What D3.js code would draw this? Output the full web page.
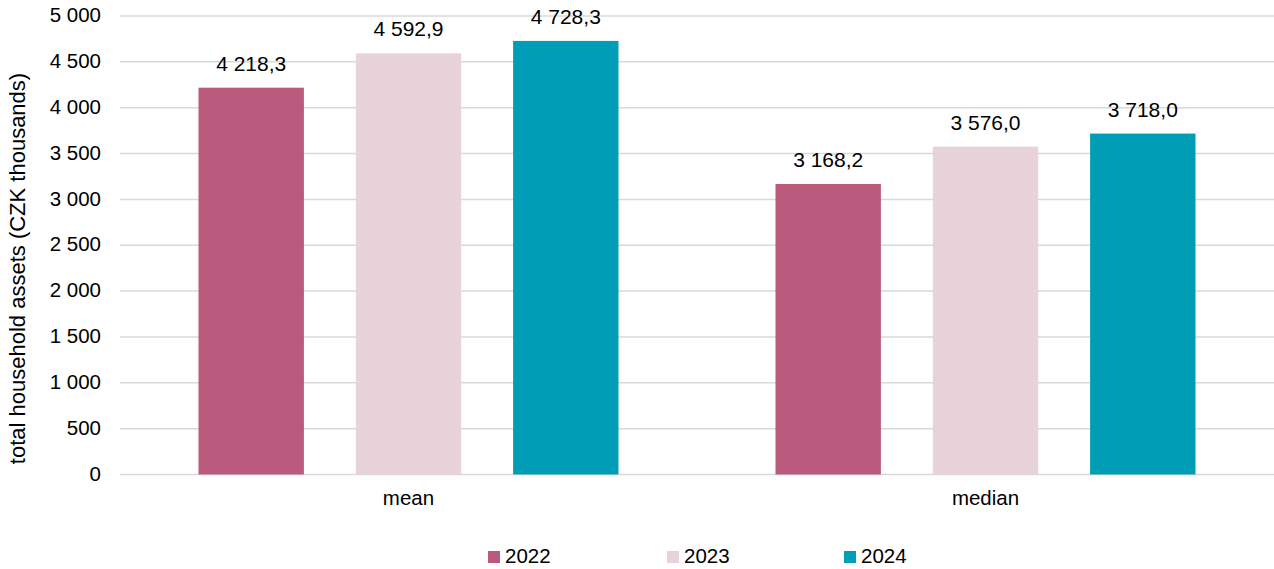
<!DOCTYPE html>
<html><head><meta charset="utf-8">
<script src="https://cdn.jsdelivr.net/npm/d3@7"></script>
<style>body{margin:0;background:#fff}svg{display:block;font-family:"Liberation Sans",Arial,sans-serif}</style>
</head><body><svg id="c" width="1274" height="569"></svg>
<script>
const categories = ["mean", "median"];
const years = ["2022", "2023", "2024"];
const v2022 = [4218.3, 3168.2];
const v2023 = [4592.9, 3576.0];
const v2024 = [4728.3, 3718.0];
const yTicks = [0, 500, 1000, 1500, 2000, 2500, 3000, 3500, 4000, 4500, 5000];
const colors = ["#BA5B7E", "#E8D3DA", "#009DB6"];
const series = [v2022, v2023, v2024];

const svg = d3.select("#c");
const L = 120, R = 1274, T = 16, B = 474.5;
const grp = s => s.replace(/\B(?=(\d{3})+(?!\d))/g, " ");
const fmt = v => grp(v.toFixed(0));
const fmt1 = v => { const [i, d] = v.toFixed(1).split("."); return grp(i) + "," + d; };

const x = d3.scaleBand().domain(categories).range([L, R]).paddingInner(0).paddingOuter(0);
const y = d3.scaleLinear().domain([0, 5000]).range([B, T]);
const inner = d3.scaleBand().domain(years).range([78.5, x.bandwidth() - 78.5]).paddingInner(0.33).paddingOuter(0);

// grid
svg.append("g").selectAll("line").data(yTicks).join("line")
  .attr("x1", L).attr("x2", R).attr("y1", d => y(d)).attr("y2", d => y(d))
  .attr("stroke", "#d9d9d9").attr("stroke-width", 1.5);

// y tick labels
svg.append("g").selectAll("text").data(yTicks).join("text")
  .attr("x", 101).attr("y", d => y(d)).attr("dy", "0.3em")
  .attr("text-anchor", "end").attr("font-size", 20.5).attr("fill", "#000")
  .text(d => fmt(d));

// bars
years.forEach((yr, si) => {
  const g = svg.append("g");
  g.selectAll("rect").data(categories).join("rect")
    .attr("x", c => x(c) + inner(yr)).attr("width", inner.bandwidth())
    .attr("y", (c, i) => y(series[si][i])).attr("height", (c, i) => B - y(series[si][i]))
    .attr("fill", colors[si]);
  g.selectAll("text").data(categories).join("text")
    .attr("x", c => x(c) + inner(yr) + inner.bandwidth() / 2)
    .attr("y", (c, i) => y(series[si][i]) - 17)
    .attr("text-anchor", "middle").attr("font-size", 21).attr("fill", "#000")
    .text((c, i) => fmt1(series[si][i]));
});

// category labels
svg.append("g").selectAll("text").data(categories).join("text")
  .attr("x", c => x(c) + x.bandwidth() / 2).attr("y", 505)
  .attr("text-anchor", "middle").attr("font-size", 20.5).attr("fill", "#000")
  .text(c => c);

// y axis title
svg.append("text").attr("transform", "translate(25,268.5) rotate(-90)")
  .attr("text-anchor", "middle").attr("font-size", 22).attr("fill", "#000")
  .text("total household assets (CZK thousands)");

// legend
const legX = [488, 667, 844];
const lg = svg.append("g");
years.forEach((yr, i) => {
  lg.append("rect").attr("x", legX[i]).attr("y", 551).attr("width", 12).attr("height", 12).attr("fill", colors[i]);
  lg.append("text").attr("x", legX[i] + 17).attr("y", 563).attr("font-size", 20.5).attr("fill", "#000").text(yr);
});
</script></body></html>
